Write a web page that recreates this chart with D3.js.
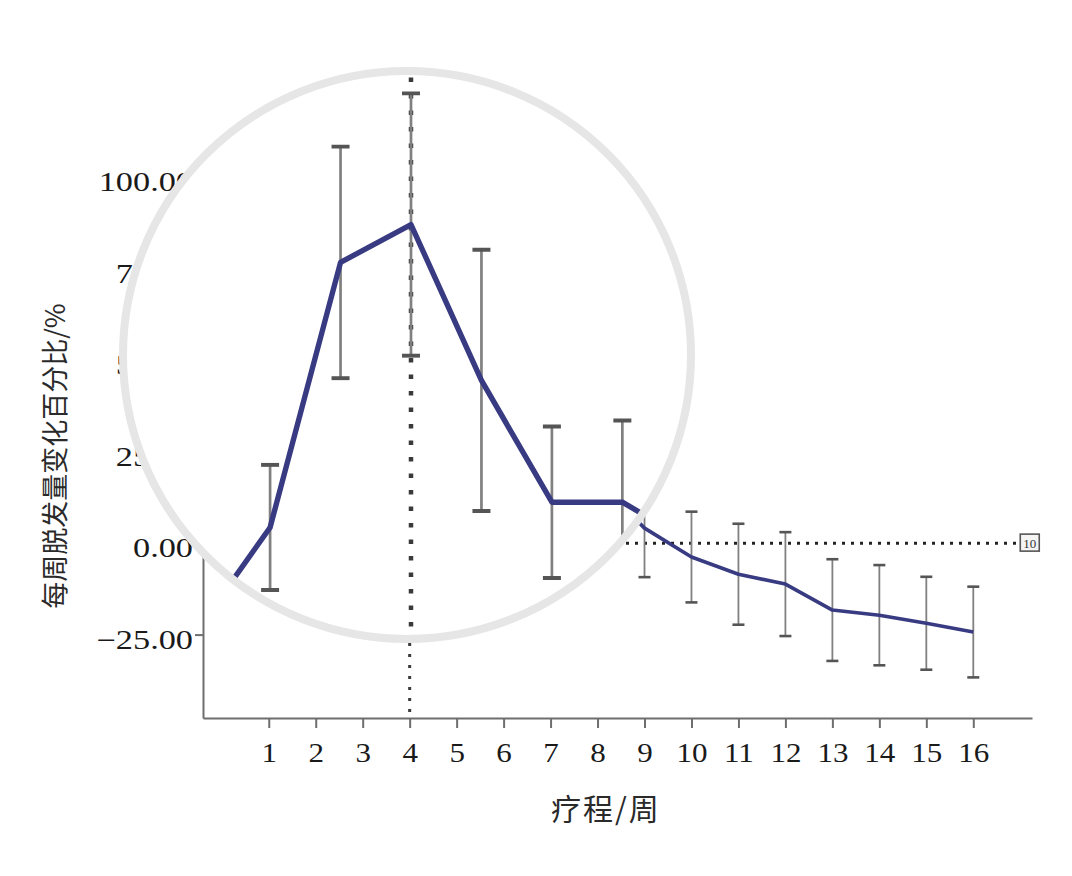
<!DOCTYPE html>
<html><head><meta charset="utf-8">
<script src="https://cdn.jsdelivr.net/npm/d3@7/dist/d3.min.js"></script>
<style>body{margin:0;background:#fff}svg{display:block}</style>
</head><body>
<svg id="c" width="1072" height="876"></svg>
<script>
// ---- data ----
const weeks  = [1,2,3,4,5,6,7,8,9,10,11,12,13,14,15,16];
const means  = [1.9,20.0,68.3,75.2,46.8,24.6,24.6,17.1,4.1,-3.8,-8.5,-11.2,-18.3,-19.7,-21.9,-24.3];
const errors = [10.0,11.4,21.1,23.9,23.8,13.8,14.9,14.0,13.4,12.4,13.8,14.2,13.9,13.7,12.7,12.4];
const yTickValues = [-25,0,25,50,75,100];
const xTickValues = weeks;
const refWeek = 4;
const refValue = 0;
const refLabel = "10";
const yTitle = "每周脱发量变化百分比/%";
const xTitle = "疗程/周";

const data = weeks.map((w,i)=>({w, m:means[i], e:errors[i]}));

const svg = d3.select("#c");
const x = d3.scaleLinear().domain([-0.4,17.25]).range([203,1032]);
const y = d3.scaleLinear().domain([-47.8,105]).range([718,159]);

const lineCol = "#383b82", ebCol = "#808080", axCol = "#6e6e6e", txtCol = "#1a1a1a";
const serif = "'Liberation Serif','Times New Roman',serif";
const cjk = "'Noto Sans CJK SC','Noto Sans CJK JP',sans-serif";
const sx = 1.27;

// ---- axes ----
const gx = svg.append("g").attr("transform",`translate(0,${y.range()[0]})`)
  .call(d3.axisBottom(x).tickValues(xTickValues).tickSize(10).tickPadding(0).tickSizeOuter(0).tickFormat(d3.format("d")));
gx.select(".domain").attr("stroke",axCol).attr("stroke-width",2);
gx.selectAll(".tick line").attr("stroke",axCol).attr("stroke-width",2);
gx.selectAll(".tick text").attr("fill",txtCol).attr("font-family",serif).attr("font-size",27)
  .attr("y",0).attr("dy",0).attr("transform",`translate(0,44) scale(1.15,1)`);

const gy = svg.append("g").attr("transform",`translate(${x.range()[0]},0)`)
  .call(d3.axisLeft(y).tickValues(yTickValues).tickSize(8).tickPadding(0).tickSizeOuter(0).tickFormat(d3.format(".2f")));
gy.select(".domain").attr("stroke",axCol).attr("stroke-width",2);
gy.selectAll(".tick line").attr("stroke",axCol).attr("stroke-width",2);
gy.selectAll(".tick text").attr("fill",txtCol).attr("font-family",serif).attr("font-size",27)
  .attr("x",-10/sx).attr("dy","0.5em").attr("transform",`scale(${sx},1)`);

svg.append("text").attr("transform",`translate(65,456) rotate(-90)`).attr("text-anchor","middle")
  .attr("font-family",cjk).attr("font-size",27).attr("fill","#2a2a2a").text(yTitle);
svg.append("text").attr("x",606).attr("y",820).attr("text-anchor","middle")
  .attr("font-family",cjk).attr("font-size",30).attr("letter-spacing",2).attr("fill","#2a2a2a").text(xTitle);

// ---- plot content (drawn with a given pair of scales) ----
function drawContent(g, xs, ys, k){
  g.append("line").attr("x1",xs(refWeek)).attr("x2",xs(refWeek))
    .attr("y1",ys(y.domain()[1])).attr("y2",ys(y.domain()[0]))
    .attr("stroke","#3a3a3a").attr("stroke-width",3*k).attr("stroke-dasharray",`${3*k},${8*k}`);
  g.append("line").attr("x1",xs(x.domain()[0])).attr("x2",xs(17.0))
    .attr("y1",ys(refValue)).attr("y2",ys(refValue))
    .attr("stroke","#222").attr("stroke-width",3*k).attr("stroke-dasharray",`${3*k},${6*k}`);
  const eb = g.append("g").attr("stroke",ebCol).attr("stroke-width",1.8*k).attr("fill","none");
  const cap = 6*k;
  data.forEach(d=>{
    const cx = xs(d.w), t = ys(d.m+d.e), b = ys(d.m-d.e);
    eb.append("line").attr("x1",cx).attr("x2",cx).attr("y1",t).attr("y2",b);
    eb.append("line").attr("x1",cx-cap).attr("x2",cx+cap).attr("y1",t).attr("y2",t).attr("stroke","#555").attr("stroke-width",2.6*k);
    eb.append("line").attr("x1",cx-cap).attr("x2",cx+cap).attr("y1",b).attr("y2",b).attr("stroke","#555").attr("stroke-width",2.6*k);
  });
  g.append("path").datum(data)
    .attr("d",d3.line().x(d=>xs(d.w)).y(d=>ys(d.m)))
    .attr("fill","none").attr("stroke",lineCol).attr("stroke-width",3.6*k).attr("stroke-linejoin","round");
}

drawContent(svg.append("g"), x, y, 1);

// reference label box
const bx = x(17.0), by = y(refValue);
svg.append("rect").attr("x",bx).attr("y",by-9).attr("width",19).attr("height",17)
  .attr("fill","#f4f4f4").attr("stroke","#555").attr("stroke-width",1.6);
svg.append("text").attr("x",bx+9.5).attr("y",by+5).attr("text-anchor","middle")
  .attr("font-family",serif).attr("font-size",13).attr("fill","#333").text(refLabel);

// ---- magnifier ----
const mcx = 407, mcy = 355, mr = 287, kz = 1.5;
const xm = d3.scaleLinear().domain(x.domain()).range(x.range().map(v=>mcx+kz*(v-mcx)));
const ym = d3.scaleLinear().domain(y.domain()).range(y.range().map(v=>mcy+kz*(v-mcy)));

svg.append("clipPath").attr("id","lens").append("circle").attr("cx",mcx).attr("cy",mcy).attr("r",mr);
svg.append("circle").attr("cx",mcx).attr("cy",mcy).attr("r",mr).attr("fill","#fff");
drawContent(svg.append("g").attr("clip-path","url(#lens)"), xm, ym, kz);
svg.append("circle").attr("cx",mcx).attr("cy",mcy).attr("r",mr-3)
  .attr("fill","none").attr("stroke","#e6e6e6").attr("stroke-width",8);
</script>
</body></html>
